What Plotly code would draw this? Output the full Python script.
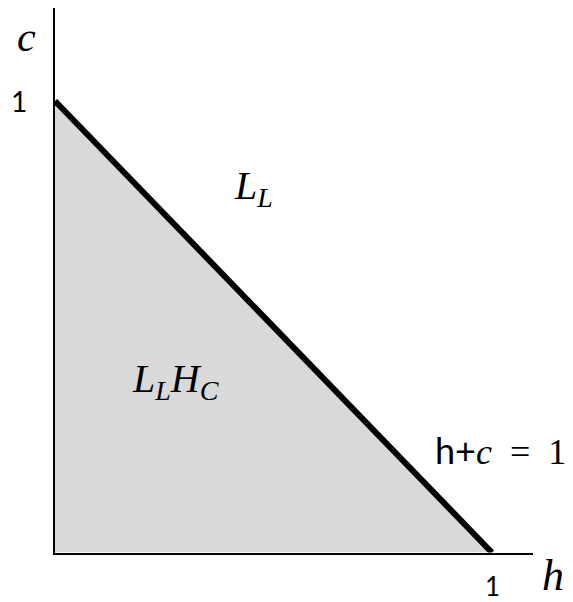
import plotly.graph_objects as go

# region below the line h + c = 1
region_h = [0, 1, 0]
region_c = [1, 0, 0]

# boundary line h + c = 1
line_h = [0, 1]
line_c = [1, 0]

tick_labels = ['1', '1']

serif = 'Liberation Serif'
sans = 'Lato, Open Sans, sans-serif'

# axis extents (data units) and domains (page has an 8px body margin)
x_max, y_max = 1.094, 1.206
x_dom = [47 / 573, 525 / 573]
y_dom = [57.5 / 602, 1.0]


def px(x):
    return x_dom[0] + x / x_max * (x_dom[1] - x_dom[0])


def py(y):
    return y_dom[0] + y / y_max * (y_dom[1] - y_dom[0])


fig = go.Figure()

fig.add_trace(go.Scatter(x=region_h, y=region_c, fill='toself',
                         fillcolor='#d9d9d9', mode='lines',
                         line=dict(width=0), hoverinfo='skip'))
fig.add_trace(go.Scatter(x=line_h, y=line_c, mode='lines',
                         line=dict(color='black', width=6), hoverinfo='skip'))

annotations = [
    dict(x=-0.066, y=1.142, text='<i>c</i>', font=dict(family=serif, size=42)),
    dict(x=-0.082, y=1.0, text=tick_labels[0], font=dict(family=sans, size=28)),
    dict(x=1.002, y=-0.074, text=tick_labels[1], font=dict(family=sans, size=26)),
    dict(x=1.14, y=-0.05, text='<i>h</i>', font=dict(family=serif, size=44)),
    dict(x=0.455, y=0.807, text='<i>L<sub>L</sub></i>', font=dict(family=serif, size=40)),
    dict(x=0.275, y=0.38, text='<i>L<sub>L</sub>H<sub>C</sub></i>',
         font=dict(family=serif, size=40)),
    dict(x=1.02, y=0.227,
         text="<span style='font-family:Lato'>h+</span><i>c</i>  =  1",
         font=dict(family=serif, size=36)),
]
for a in annotations:
    a.update(x=px(a['x']), y=py(a['y']), xref='paper', yref='paper',
             xanchor='center', yanchor='middle',
             showarrow=False, font_color='black')

fig.update_layout(
    width=573, height=602,
    margin=dict(l=0, r=0, t=0, b=0),
    paper_bgcolor='white', plot_bgcolor='white',
    showlegend=False,
    annotations=annotations,
    xaxis=dict(domain=x_dom, range=[0, x_max],
               showline=True, linecolor='black', linewidth=2,
               showgrid=False, zeroline=False, showticklabels=False, ticks=''),
    yaxis=dict(domain=y_dom, range=[0, y_max],
               showline=True, linecolor='black', linewidth=2,
               showgrid=False, zeroline=False, showticklabels=False, ticks=''),
)

fig.write_html("out.html")
